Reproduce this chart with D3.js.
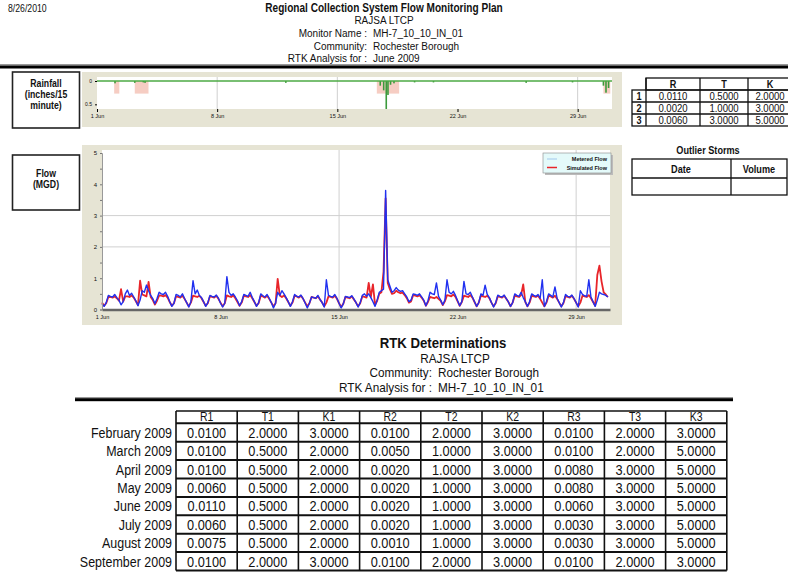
<!DOCTYPE html>
<html>
<head>
<meta charset="utf-8">
<script src="https://cdn.jsdelivr.net/npm/d3@7"></script>
<style>
  body { margin: 0; background: #fff; }
  text { font-family: "Liberation Sans Narrow", "Arial Narrow", "Liberation Sans", Arial, sans-serif; fill: #111; }
</style>
</head>
<body>
<svg id="page" width="788" height="573"></svg>
<script>
// ---- DATA ---- //
const reportDate = "8/26/2010";
const reportTitle = "Regional Collection System Flow Monitoring Plan";
const programName = "RAJSA LTCP";
const headerLabels = ["Monitor Name :", "Community:", "RTK Analysis for :"];
const headerValues = ["MH-7_10_10_IN_01", "Rochester Borough", "June 2009"];

// rtk set used for the month
const rtkHeader = ["R", "T", "K"];
const rtkSet = [
  [0.0110, 0.5000, 2.0000],
  [0.0020, 1.0000, 3.0000],
  [0.0060, 3.0000, 5.0000]
];

const outlierHeader = ["Date", "Volume"];

// flow, MGD, one value every 3 hours from 1 Jun 2009 (8 per day)
const meteredFlow = [
  0.18,0.10,0.22,0.45,0.42,0.40,0.48,0.38,
  0.30,0.15,0.25,0.50,0.62,0.45,0.52,0.40,
  0.28,0.12,0.30,0.60,0.55,0.78,0.60,0.45,
  0.35,0.18,0.35,0.55,0.50,0.48,0.55,0.42,
  0.25,0.10,0.20,0.48,0.45,0.40,0.50,0.35,
  0.22,0.08,0.25,0.92,0.50,0.62,0.45,0.38,
  0.25,0.10,0.22,0.45,0.42,0.40,0.46,0.36,
  0.20,0.08,0.20,1.05,0.55,0.45,0.50,0.40,
  0.28,0.12,0.25,0.48,0.45,0.42,0.55,0.38,
  0.25,0.10,0.22,0.50,0.44,0.40,0.48,0.36,
  0.22,0.05,0.20,0.55,0.45,0.60,0.50,0.38,
  0.25,0.10,0.25,0.48,0.42,0.40,0.46,0.35,
  0.20,0.05,0.20,0.40,0.38,0.36,0.45,0.32,
  0.22,0.08,0.95,0.45,0.42,0.40,0.48,0.36,
  0.20,0.05,0.18,0.42,0.40,0.38,0.44,0.34,
  0.22,0.08,0.22,0.45,0.50,0.42,0.50,0.38,
  0.25,0.10,0.30,0.55,0.60,0.65,3.80,0.95,
  0.75,0.55,0.60,0.70,0.62,0.58,0.60,0.50,
  0.40,0.25,0.30,0.50,0.48,0.45,0.50,0.40,
  0.30,0.12,0.28,0.55,0.50,0.48,0.85,0.42,
  0.30,0.15,0.30,0.95,0.55,0.50,0.58,0.45,
  0.28,0.12,0.25,0.90,0.50,0.48,0.55,0.40,
  0.25,0.10,0.22,0.50,0.45,0.78,0.48,0.38,
  0.22,0.08,0.22,0.46,0.42,0.40,0.46,0.35,
  0.24,0.10,0.22,0.50,0.45,0.42,0.55,0.38,
  0.25,0.10,0.25,0.50,0.45,0.42,0.48,0.36,
  0.95,0.10,0.25,0.50,0.45,0.40,0.72,0.36,
  0.22,0.08,0.22,0.48,0.42,0.40,0.46,0.35,
  0.22,0.08,0.60,0.48,0.44,0.42,0.95,0.40,
  0.25,0.10,0.30,0.55,0.50,0.48,0.45,0.40
];
const simulatedFlow = [
  0.22,0.12,0.20,0.40,0.40,0.38,0.42,0.36,
  0.28,0.65,0.25,0.42,0.42,0.40,0.45,0.38,
  0.26,0.14,0.92,0.48,0.45,0.42,0.88,0.40,
  0.30,0.16,0.28,0.45,0.44,0.42,0.46,0.38,
  0.24,0.12,0.20,0.42,0.40,0.38,0.44,0.34,
  0.22,0.10,0.22,0.44,0.42,0.40,0.44,0.36,
  0.24,0.12,0.20,0.42,0.40,0.38,0.44,0.34,
  0.22,0.10,0.20,0.45,0.42,0.40,0.45,0.36,
  0.24,0.12,0.22,0.44,0.42,0.40,0.46,0.36,
  0.24,0.12,0.20,0.44,0.42,0.38,0.44,0.34,
  0.22,0.10,0.20,0.98,0.45,0.40,0.45,0.36,
  0.24,0.12,0.22,0.44,0.42,0.38,0.44,0.34,
  0.22,0.10,0.20,0.40,0.38,0.36,0.42,0.32,
  0.22,0.10,0.22,0.42,0.40,0.38,0.44,0.34,
  0.20,0.08,0.18,0.40,0.38,0.36,0.42,0.32,
  0.22,0.10,0.20,0.42,0.40,0.38,0.85,0.40,
  0.80,0.15,0.28,0.50,0.55,1.20,3.55,0.85,
  0.65,0.50,0.52,0.60,0.55,0.52,0.54,0.46,
  0.36,0.22,0.26,0.46,0.44,0.42,0.46,0.38,
  0.28,0.12,0.24,0.40,0.38,0.36,0.40,0.34,
  0.28,0.14,0.26,0.46,0.44,0.42,0.48,0.40,
  0.26,0.12,0.24,0.44,0.42,0.40,0.46,0.38,
  0.24,0.10,0.22,0.44,0.42,0.40,0.44,0.36,
  0.22,0.10,0.20,0.42,0.40,0.38,0.44,0.34,
  0.24,0.10,0.22,0.44,0.42,0.40,0.46,0.80,
  0.24,0.10,0.22,0.44,0.42,0.40,0.44,0.34,
  0.22,0.10,0.22,0.44,0.42,0.38,0.44,0.34,
  0.22,0.10,0.20,0.42,0.40,0.38,0.44,0.34,
  0.22,0.10,0.22,0.44,0.42,0.40,0.46,0.36,
  0.24,0.12,1.10,1.40,0.90,0.55,0.48,0.40
];
const flowSeriesNames = ["Metered Flow", "Simulated Flow"];

// rainfall: time as day of June (decimal), depth in inches / 15 min
const rainDays   = [1.05, 2.2, 2.7, 2.8, 11.0, 16.5, 16.7, 16.85, 16.95, 17.1, 17.3, 18.5, 19.6, 25.0, 27.7, 29.5, 29.65, 29.8];
const rainDepths = [0.05, 0.04, 0.03, 0.04, 0.04, 0.10, 0.20, 0.60, 0.30, 0.08, 0.05, 0.03, 0.03, 0.04, 0.03, 0.10, 0.25, 0.15];
// storm windows (start day, end day)
const stormStart = [1.0, 2.2, 16.3, 29.5];
const stormEnd   = [1.3, 3.0, 17.6, 29.9];

// RTK determinations by month
const months = ["February 2009", "March 2009", "April 2009", "May 2009", "June 2009", "July 2009", "August 2009", "September 2009"];
const monthCols = ["R1", "T1", "K1", "R2", "T2", "K2", "R3", "T3", "K3"];
const monthValues = [
  [0.0100, 2.0000, 3.0000, 0.0100, 2.0000, 3.0000, 0.0100, 2.0000, 3.0000],
  [0.0100, 0.5000, 2.0000, 0.0050, 1.0000, 3.0000, 0.0100, 2.0000, 5.0000],
  [0.0100, 0.5000, 2.0000, 0.0020, 1.0000, 3.0000, 0.0080, 3.0000, 5.0000],
  [0.0060, 0.5000, 2.0000, 0.0020, 1.0000, 3.0000, 0.0080, 3.0000, 5.0000],
  [0.0110, 0.5000, 2.0000, 0.0020, 1.0000, 3.0000, 0.0060, 3.0000, 5.0000],
  [0.0060, 0.5000, 2.0000, 0.0020, 1.0000, 3.0000, 0.0030, 3.0000, 5.0000],
  [0.0075, 0.5000, 2.0000, 0.0010, 1.0000, 3.0000, 0.0030, 3.0000, 5.0000],
  [0.0100, 2.0000, 3.0000, 0.0100, 2.0000, 3.0000, 0.0100, 2.0000, 3.0000]
];

// ---- HELPERS ---- //
const svg = d3.select("#page");
const fmt4 = d3.format(".4f");
const monthStart = new Date(2009, 5, 1);
const monthEnd = new Date(2009, 6, 1);
const dayToDate = d => new Date(monthStart.getTime() + d * 864e5);
const weekTicks = [1, 8, 15, 22, 29].map(d => new Date(2009, 5, d));

// text with a narrow look (no narrow font installed, so squeeze it)
function label(x, y, str, size, opts) {
  opts = opts || {};
  const sx = opts.sx || 0.87;
  return svg.append("text")
    .attr("transform", "translate(" + x + "," + y + ") scale(" + sx + ",1)")
    .attr("font-size", size)
    .attr("font-weight", opts.bold ? "bold" : null)
    .attr("text-anchor", opts.anchor || "start")
    .text(str);
}

// ---- PAGE HEADER ---- //
label(8, 12, reportDate, 10);
label(384, 12, reportTitle, 12, {bold: true, anchor: "middle", sx: 0.84});
label(384, 24, programName, 11.5, {anchor: "middle"});
headerLabels.forEach((t, i) => {
  label(367, 37 + i * 12.5, t, 11.5, {anchor: "end"});
  label(373, 37 + i * 12.5, headerValues[i], 11.5);
});
svg.append("rect").attr("x", 0).attr("y", 64).attr("width", 788).attr("height", 1.5).attr("fill", "#999");
svg.append("rect").attr("x", 0).attr("y", 65.5).attr("width", 788).attr("height", 3).attr("fill", "#000");

// side label boxes
function sideBox(y, h, lines, y0) {
  svg.append("rect").attr("x", 12.5).attr("y", y).attr("width", 67).attr("height", h)
    .attr("fill", "#fff").attr("stroke", "#222").attr("stroke-width", 1.6);
  lines.forEach((t, i) => label(46, y0 + i * 11, t, 10, {bold: true, anchor: "middle"}));
}
sideBox(72, 56, ["Rainfall", "(inches/15", "minute)"], 87);
sideBox(155, 55, ["Flow", "(MGD)"], 177);

// ---- RAINFALL CHART ---- //
svg.append("rect").attr("x", 82).attr("y", 72).attr("width", 540).attr("height", 55).attr("fill", "#e6e4d4");
const rain = {left: 97, right: 612, top: 77, bottom: 109};
svg.append("rect").attr("x", rain.left).attr("y", rain.top)
  .attr("width", rain.right - rain.left).attr("height", rain.bottom - rain.top).attr("fill", "#fff");

const rainX = d3.scaleTime().domain([monthStart, monthEnd]).range([rain.left, rain.right]);
const rainY = d3.scaleLinear().domain([0, 0.6]).range([81, rain.bottom]);

// gridlines
svg.append("g").selectAll("line")
  .data([8, 15, 29].map(d => new Date(2009, 5, d)))
  .enter().append("line")
    .attr("x1", d => rainX(d)).attr("x2", d => rainX(d))
    .attr("y1", rain.top).attr("y2", rain.bottom)
    .attr("stroke", "#cfcfcf").attr("stroke-width", 1);

// storm windows
svg.append("g").selectAll("rect")
  .data(stormStart.map((s, i) => ({s: s, e: stormEnd[i]})))
  .enter().append("rect")
    .attr("x", d => rainX(dayToDate(d.s)))
    .attr("width", d => rainX(dayToDate(d.e)) - rainX(dayToDate(d.s)))
    .attr("y", rainY(0))
    .attr("height", rainY(0.27) - rainY(0))
    .attr("fill", "#f4c4b8").attr("opacity", 0.85);

// rain bars
svg.append("g").selectAll("rect")
  .data(rainDays.map((d, i) => ({t: dayToDate(d), v: rainDepths[i]})))
  .enter().append("rect")
    .attr("x", d => rainX(d.t) - 0.8)
    .attr("width", 1.6)
    .attr("y", rainY(0))
    .attr("height", d => rainY(d.v) - rainY(0))
    .attr("fill", "#3c9a3c");

svg.append("line").attr("x1", rain.left).attr("x2", rain.right)
  .attr("y1", rainY(0)).attr("y2", rainY(0))
  .attr("stroke", "#4caa44").attr("stroke-width", 1.5);

const rainYAxis = d3.axisLeft(rainY).tickValues([0, 0.5]).tickSize(2).tickFormat(d3.format(".1"));
svg.append("g").attr("transform", "translate(" + rain.left + ",0)").call(rainYAxis)
  .call(g => g.select(".domain").remove())
  .call(g => g.selectAll("text").attr("font-size", 5).attr("fill", "#333"));

const rainXAxis = d3.axisBottom(rainX).tickValues(weekTicks).tickSize(3).tickFormat(d3.timeFormat("%-d %b"));
svg.append("g").attr("transform", "translate(0," + rain.bottom + ")").call(rainXAxis)
  .call(g => g.select(".domain").remove())
  .call(g => g.selectAll("text").attr("font-size", 5.5).attr("fill", "#333").attr("dy", "0.6em"));

// ---- RTK SET TABLE ---- //
const rtkCols = [632, 646, 700, 748, 800];
const rtkTop = 78, rtkRowH = 12;
const rtkG = svg.append("g").attr("stroke", "#111").attr("stroke-width", 1.3);
// header row (no cell over index column)
rtkG.append("rect").attr("x", rtkCols[1]).attr("y", rtkTop).attr("width", rtkCols[4] - rtkCols[1]).attr("height", rtkRowH).attr("fill", "none");
rtkG.append("rect").attr("x", rtkCols[0]).attr("y", rtkTop + rtkRowH).attr("width", rtkCols[4] - rtkCols[0]).attr("height", rtkRowH * 3).attr("fill", "none");
[1, 2].forEach(r => rtkG.append("line").attr("x1", rtkCols[0]).attr("x2", rtkCols[4])
  .attr("y1", rtkTop + rtkRowH * (r + 1)).attr("y2", rtkTop + rtkRowH * (r + 1)));
[1, 2, 3].forEach(c => rtkG.append("line").attr("x1", rtkCols[c]).attr("x2", rtkCols[c])
  .attr("y1", c === 1 ? rtkTop + rtkRowH : rtkTop).attr("y2", rtkTop + rtkRowH * 4));
rtkG.append("line").attr("x1", rtkCols[1]).attr("x2", rtkCols[1]).attr("y1", rtkTop).attr("y2", rtkTop + rtkRowH);
const rtkMid = [(rtkCols[1] + rtkCols[2]) / 2, (rtkCols[2] + rtkCols[3]) / 2, 770];
rtkHeader.forEach((h, i) => label(rtkMid[i], rtkTop + 9.5, h, 10.5, {bold: true, anchor: "middle"}));
rtkSet.forEach((row, r) => {
  const y = rtkTop + rtkRowH * (r + 1) + 10;
  label((rtkCols[0] + rtkCols[1]) / 2, y, String(r + 1), 10.5, {bold: true, anchor: "middle"});
  row.forEach((v, c) => label(rtkMid[c], y, fmt4(v), 11, {anchor: "middle"}));
});

// ---- FLOW CHART ---- //
svg.append("rect").attr("x", 82).attr("y", 145).attr("width", 540).attr("height", 180).attr("fill", "#e6e4d4");
const flow = {left: 102, right: 610, top: 150, bottom: 309.5};
svg.append("rect").attr("x", flow.left).attr("y", flow.top)
  .attr("width", flow.right - flow.left).attr("height", flow.bottom - flow.top).attr("fill", "#fff");

const flowX = d3.scaleTime().domain([monthStart, monthEnd]).range([flow.left, flow.right]);
const flowY = d3.scaleLinear().domain([0, 5]).range([flow.bottom, 153]);

// gridlines
svg.append("g").selectAll("line")
  .data([2, 3])
  .enter().append("line")
    .attr("x1", flow.left).attr("x2", flow.right)
    .attr("y1", d => flowY(d)).attr("y2", d => flowY(d))
    .attr("stroke", "#d0d0d0");
svg.append("g").selectAll("line")
  .data([15, 29].map(d => new Date(2009, 5, d)))
  .enter().append("line")
    .attr("x1", d => flowX(d)).attr("x2", d => flowX(d))
    .attr("y1", flow.top).attr("y2", flow.bottom)
    .attr("stroke", "#d0d0d0");

const flowTime = i => new Date(monthStart.getTime() + i * 3 * 36e5);
const flowLine = d3.line()
  .x((d, i) => flowX(flowTime(i)))
  .y(d => flowY(d));

svg.append("path").attr("d", flowLine(simulatedFlow))
  .attr("fill", "none").attr("stroke", "#e8252a").attr("stroke-width", 1.8).attr("stroke-linejoin", "round");
svg.append("path").attr("d", flowLine(meteredFlow))
  .attr("fill", "none").attr("stroke", "#2030f0").attr("stroke-width", 1.4).attr("stroke-linejoin", "round");

// axes
const flowYAxis = d3.axisLeft(flowY).ticks(10).tickSize(2)
  .tickFormat(d => Number.isInteger(d) ? d : "");
svg.append("g").attr("transform", "translate(" + flow.left + ",0)").call(flowYAxis)
  .call(g => g.select(".domain").attr("stroke", "#999"))
  .call(g => g.selectAll("line").attr("stroke", "#777"))
  .call(g => g.selectAll("text").attr("font-size", 6).attr("fill", "#333"));

const flowXAxis = d3.axisBottom(flowX).tickValues(weekTicks).tickSize(0).tickFormat(d3.timeFormat("%-d %b"));
svg.append("g").attr("transform", "translate(0," + flow.bottom + ")").call(flowXAxis)
  .call(g => g.select(".domain").attr("stroke", "#666").attr("stroke-width", 2.5))
  .call(g => g.selectAll("text").attr("font-size", 5.5).attr("fill", "#333").attr("dy", "1.1em"));

// legend
const legend = svg.append("g").attr("transform", "translate(543,153)");
legend.append("rect").attr("x", 2).attr("y", 2).attr("width", 68).attr("height", 20).attr("fill", "#bbb");
legend.append("rect").attr("width", 68).attr("height", 20).attr("fill", "#e4fafa").attr("stroke", "#888").attr("stroke-width", 0.6);
flowSeriesNames.forEach((n, i) => {
  legend.append("line").attr("x1", 4).attr("x2", 14).attr("y1", 6 + i * 8.5).attr("y2", 6 + i * 8.5)
    .attr("stroke", i === 0 ? "#b8d8f0" : "#e8252a").attr("stroke-width", 1.5);
  legend.append("text").attr("x", 64).attr("y", 8 + i * 8.5).attr("text-anchor", "end")
    .attr("font-size", 5.5).attr("font-weight", "bold").text(n);
});

// ---- OUTLIER STORMS ---- //
label(708, 154, "Outlier Storms", 10.5, {bold: true, anchor: "middle"});
const osG = svg.append("g").attr("stroke", "#111").attr("stroke-width", 1.3).attr("fill", "none");
osG.append("rect").attr("x", 632).attr("y", 159).attr("width", 155).attr("height", 36);
osG.append("line").attr("x1", 632).attr("x2", 787).attr("y1", 178).attr("y2", 178);
osG.append("line").attr("x1", 731).attr("x2", 731).attr("y1", 159).attr("y2", 195);
label(681, 172.5, outlierHeader[0], 10.5, {bold: true, anchor: "middle"});
label(759, 172.5, outlierHeader[1], 10.5, {bold: true, anchor: "middle"});

// ---- RTK DETERMINATIONS ---- //
label(443, 348, "RTK Determinations", 15, {bold: true, anchor: "middle", sx: 0.88});
label(455, 362.5, programName, 13.5, {anchor: "middle"});
label(432, 377, "Community:", 13.5, {anchor: "end"});
label(438, 377, "Rochester Borough", 13.5);
label(432, 391.5, "RTK Analysis for :", 13.5, {anchor: "end"});
label(438, 391.5, "MH-7_10_10_IN_01", 13.5);
svg.append("rect").attr("x", 75).attr("y", 397).attr("width", 658).attr("height", 1.2).attr("fill", "#999");
svg.append("rect").attr("x", 75).attr("y", 398.2).attr("width", 658).attr("height", 3).attr("fill", "#000");

const tbl = {left: 176, colW: 61.2, headTop: 411, headH: 12.3, rowH: 18.4};
const tblX = c => tbl.left + c * tbl.colW;
const rowTop = r => tbl.headTop + tbl.headH + r * tbl.rowH;
const tG = svg.append("g").attr("stroke", "#111").attr("fill", "none");
// horizontal lines
d3.range(months.length + 2).forEach(r => {
  const y = r === 0 ? tbl.headTop : rowTop(r - 1);
  tG.append("line").attr("x1", tblX(0)).attr("x2", tblX(monthCols.length))
    .attr("y1", y).attr("y2", y).attr("stroke-width", r === 0 ? 1.3 : 2);
});
// vertical lines
d3.range(monthCols.length + 1).forEach(c => {
  tG.append("line").attr("x1", tblX(c)).attr("x2", tblX(c))
    .attr("y1", tbl.headTop).attr("y2", rowTop(months.length)).attr("stroke-width", 1.6);
});
monthCols.forEach((h, c) => label(tblX(c) + tbl.colW / 2, tbl.headTop + 10.3, h, 12, {anchor: "middle"}));
months.forEach((m, r) => {
  const y = rowTop(r) + 14.5;
  label(172, y, m, 14.5, {anchor: "end", sx: 0.86});
  monthValues[r].forEach((v, c) => label(tblX(c) + tbl.colW / 2, y, fmt4(v), 14.5, {anchor: "middle", sx: 0.88}));
});
</script>
</body>
</html>
